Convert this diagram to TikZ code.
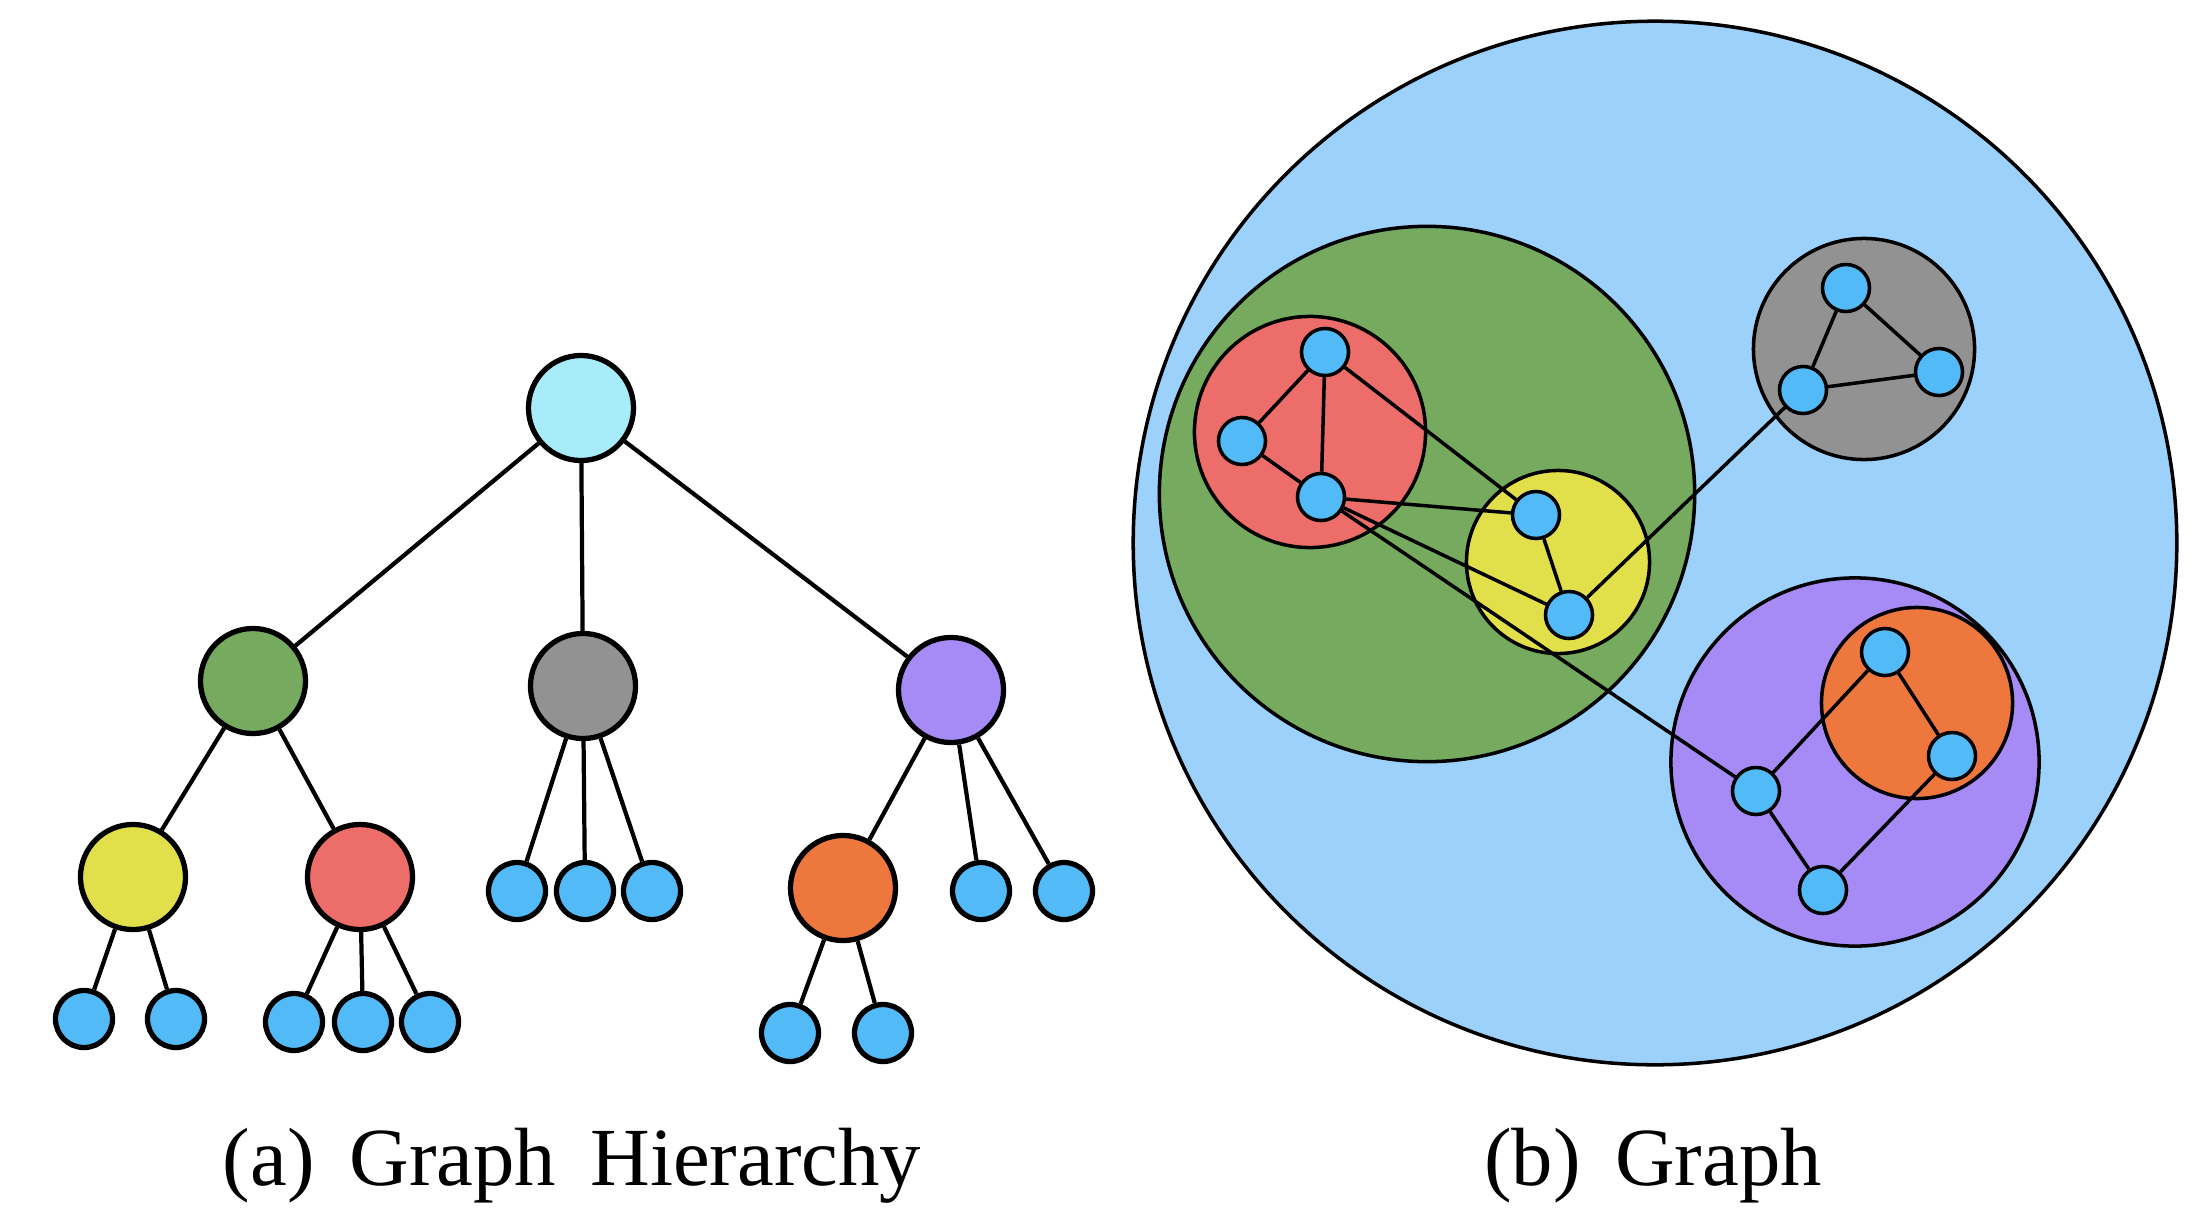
\documentclass[tikz,border=0pt]{standalone}
\usepackage{fontspec}
\setmainfont{Liberation Serif}
\definecolor{rootc}{HTML}{A8ECFA}
\definecolor{greenc}{HTML}{76AB5F}
\definecolor{grayc}{HTML}{929292}
\definecolor{purplec}{HTML}{A68AF5}
\definecolor{yellowc}{HTML}{E2E04A}
\definecolor{redc}{HTML}{EC6D69}
\definecolor{orangec}{HTML}{EE773D}
\definecolor{leafc}{HTML}{52BBF7}
\definecolor{skyc}{HTML}{9BD1FA}
\newcommand{\capfont}{\fontsize{23.5}{28}\selectfont\spaceskip=0.42em\relax}
\tikzset{
  tnode/.style={circle,draw,line width=1.5pt,minimum size=1.05cm,inner sep=0pt},
  tleaf/.style={circle,draw,line width=1.5pt,fill=leafc,minimum size=0.57cm,inner sep=0pt},
  group/.style={circle,draw,line width=1pt,inner sep=0pt},
  gnode/.style={circle,draw,line width=1pt,fill=leafc,minimum size=0.47cm,inner sep=0pt},
  caption/.style={anchor=base,font=\capfont}
}
\begin{document}
\begin{tikzpicture}[x=0.01cm,y=-0.01cm]
                    \useasboundingbox (0,0) rectangle (2200,1224);
                    %TREE NODE
                    \node[tnode,fill=rootc] (T) at (581,408){};
                    \node[tnode,fill=greenc] (TG) at (253,681){};
                    \node[tnode,fill=grayc] (TK) at (583,686){};
                    \node[tnode,fill=purplec] (TP) at (951,690){};
                    \node[tnode,fill=yellowc] (TY) at (133,877){};
                    \node[tnode,fill=redc] (TR) at (360,877){};
                    \node[tnode,fill=orangec] (TO) at (843,888){};
                    \node[tleaf] (K1) at (517,891){};
                    \node[tleaf] (K2) at (585,891){};
                    \node[tleaf] (K3) at (652,891){};
                    \node[tleaf] (P1) at (981,891){};
                    \node[tleaf] (P2) at (1064,891){};
                    \node[tleaf] (Y1) at (84,1019){};
                    \node[tleaf] (Y2) at (176,1019){};
                    \node[tleaf] (R1) at (294,1022){};
                    \node[tleaf] (R2) at (363,1022){};
                    \node[tleaf] (R3) at (430,1022){};
                    \node[tleaf] (O1) at (790,1033){};
                    \node[tleaf] (O2) at (883,1033){};

                    %TREE EDGE
                    \draw[line width=1.2pt] (T) -- (TG);
                    \draw[line width=1.2pt] (T) -- (TK);
                    \draw[line width=1.2pt] (T) -- (TP);
                    \draw[line width=1.2pt] (TG) -- (TY);
                    \draw[line width=1.2pt] (TG) -- (TR);
                    \draw[line width=1.2pt] (TK) -- (K1);
                    \draw[line width=1.2pt] (TK) -- (K2);
                    \draw[line width=1.2pt] (TK) -- (K3);
                    \draw[line width=1.2pt] (TP) -- (TO);
                    \draw[line width=1.2pt] (TP) -- (P1);
                    \draw[line width=1.2pt] (TP) -- (P2);
                    \draw[line width=1.2pt] (TY) -- (Y1);
                    \draw[line width=1.2pt] (TY) -- (Y2);
                    \draw[line width=1.2pt] (TR) -- (R1);
                    \draw[line width=1.2pt] (TR) -- (R2);
                    \draw[line width=1.2pt] (TR) -- (R3);
                    \draw[line width=1.2pt] (TO) -- (O1);
                    \draw[line width=1.2pt] (TO) -- (O2);

                    %GROUPS
                    \node[group,fill=skyc,minimum size=10.43cm] (S) at (1655,543){};
                    \node[group,fill=greenc,minimum size=5.35cm] (SG) at (1427,494){};
                    \node[group,fill=redc,minimum size=2.31cm] (SR) at (1310,432){};
                    \node[group,fill=yellowc,minimum size=1.83cm] (SY) at (1558,562){};
                    \node[group,fill=grayc,minimum size=2.21cm] (SK) at (1864,349){};
                    \node[group,fill=purplec,minimum size=3.68cm] (SP) at (1855,762){};
                    \node[group,fill=orangec,minimum size=1.91cm] (SO) at (1917,703){};

                    %GRAPH NODE
                    \node[gnode] (a) at (1325,352){};
                    \node[gnode] (b) at (1242,441){};
                    \node[gnode] (c) at (1321,497){};
                    \node[gnode] (d) at (1536,515){};
                    \node[gnode] (e) at (1569,615){};
                    \node[gnode] (f) at (1846,288){};
                    \node[gnode] (g) at (1939,372){};
                    \node[gnode] (h) at (1803,390){};
                    \node[gnode] (i) at (1885,652){};
                    \node[gnode] (j) at (1952,756){};
                    \node[gnode] (k) at (1756,791){};
                    \node[gnode] (l) at (1823,890){};

                    %GRAPH EDGE
                    \draw[line width=1pt] (a) -- (b);
                    \draw[line width=1pt] (a) -- (c);
                    \draw[line width=1pt] (b) -- (c);
                    \draw[line width=1pt] (a) -- (d);
                    \draw[line width=1pt] (c) -- (d);
                    \draw[line width=1pt] (c) -- (e);
                    \draw[line width=1pt] (c) -- (k);
                    \draw[line width=1pt] (d) -- (e);
                    \draw[line width=1pt] (e) -- (h);
                    \draw[line width=1pt] (h) -- (f);
                    \draw[line width=1pt] (f) -- (g);
                    \draw[line width=1pt] (h) -- (g);
                    \draw[line width=1pt] (k) -- (i);
                    \draw[line width=1pt] (i) -- (j);
                    \draw[line width=1pt] (j) -- (l);
                    \draw[line width=1pt] (k) -- (l);

                    %CAPTION
                    \node[caption] (capa) at (572,1185){(a) Graph Hierarchy};
                    \node[caption] (capb) at (1653,1185){(b) Graph};
                \end{tikzpicture}
\end{document}
